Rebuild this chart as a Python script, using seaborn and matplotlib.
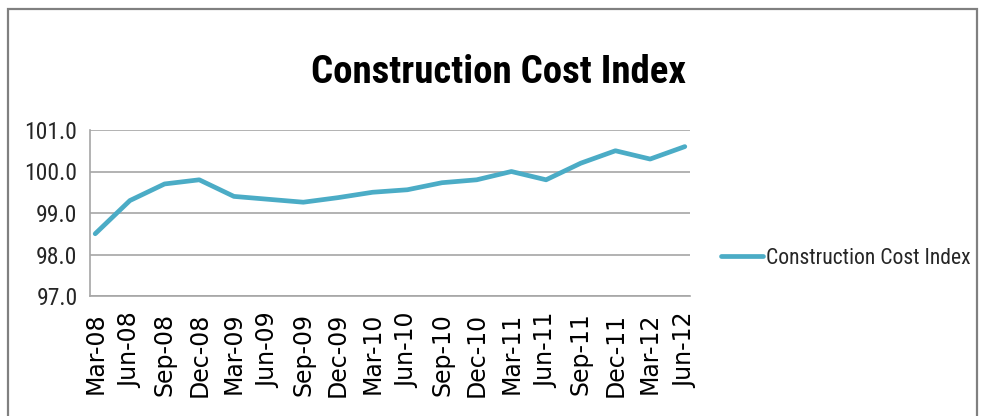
import numpy as np
import pandas as pd
import seaborn as sns
import matplotlib
matplotlib.use("Agg")
import matplotlib.pyplot as plt
from matplotlib.patches import Rectangle

# Quarterly construction cost index
quarters = ["Mar-08", "Jun-08", "Sep-08", "Dec-08", "Mar-09", "Jun-09", "Sep-09", "Dec-09",
            "Mar-10", "Jun-10", "Sep-10", "Dec-10", "Mar-11", "Jun-11", "Sep-11", "Dec-11",
            "Mar-12", "Jun-12"]
index_values = [98.5, 99.3, 99.7, 99.8, 99.4, 99.33, 99.26, 99.37,
                99.5, 99.56, 99.73, 99.8, 100.0, 99.8, 100.2, 100.5,
                100.3, 100.6]
y_ticks = [97.0, 98.0, 99.0, 100.0, 101.0]
series_name = "Construction Cost Index"

sns.set_style("white")
narrow = ["Roboto Condensed", "Lato", "DejaVu Sans"]
plt.rcParams["font.family"] = narrow

df = pd.DataFrame({"pos": np.arange(len(quarters)), "value": index_values, "series": series_name})

fig = plt.figure(figsize=(9.82, 4.16), dpi=100)
ax = fig.add_axes([90 / 982, 1 - 296 / 416, 600 / 982, 166 / 416])

sns.lineplot(data=df, x="pos", y="value", color="#4BACC6", linewidth=3.4, ax=ax, label=series_name, legend=False)

# axes look like an Excel chart: grey grid, grey left/bottom axis
ax.set_ylim(97, 101)
ax.set_xlim(-0.15, len(quarters) - 1 + 0.15)
ax.set_yticks(y_ticks)
ax.set_yticklabels([f"{v:.1f}" for v in y_ticks], fontsize=17, color="#262626")
ax.yaxis.grid(True, color="#a6a6a6", linewidth=1.2)
ax.set_axisbelow(True)
ax.set_xlabel("")
ax.set_ylabel("")
for s in ["top", "right"]:
    ax.spines[s].set_visible(False)
for s in ["left", "bottom"]:
    ax.spines[s].set_color("#a6a6a6")
    ax.spines[s].set_linewidth(1.2)
ax.tick_params(axis="y", length=5, color="#a6a6a6", width=1.2, pad=4)

# labels sit on the points, tick marks a little to the left
ax.set_xticks(np.arange(len(quarters)))
ax.set_xticklabels(quarters, rotation=90, fontsize=17, family="DejaVu Sans", color="black")
ax.tick_params(axis="x", length=0, pad=12)
ax.set_xticks(np.arange(len(quarters)) - 0.15, minor=True)
ax.tick_params(axis="x", which="minor", length=7, color="#a6a6a6", width=1.2)

fig.text(0.508, 1 - 83 / 416, "Construction Cost Index", ha="center", va="baseline",
         fontsize=28, fontweight="bold", color="black")

handles, labels = ax.get_legend_handles_labels()
fig.legend(handles, labels, loc="center left", bbox_to_anchor=(721 / 982, 1 - 258 / 416),
           frameon=False, fontsize=15.6, handlelength=1.95, handletextpad=0.15,
           borderpad=0, borderaxespad=0)

# outer chart border
fig.patches.append(Rectangle((8 / 982, -0.05), 969 / 982, 1.05 - 9 / 416, transform=fig.transFigure,
                             fill=False, edgecolor="#808080", linewidth=1.6))

fig.savefig("out.png", dpi=100, facecolor="white")
